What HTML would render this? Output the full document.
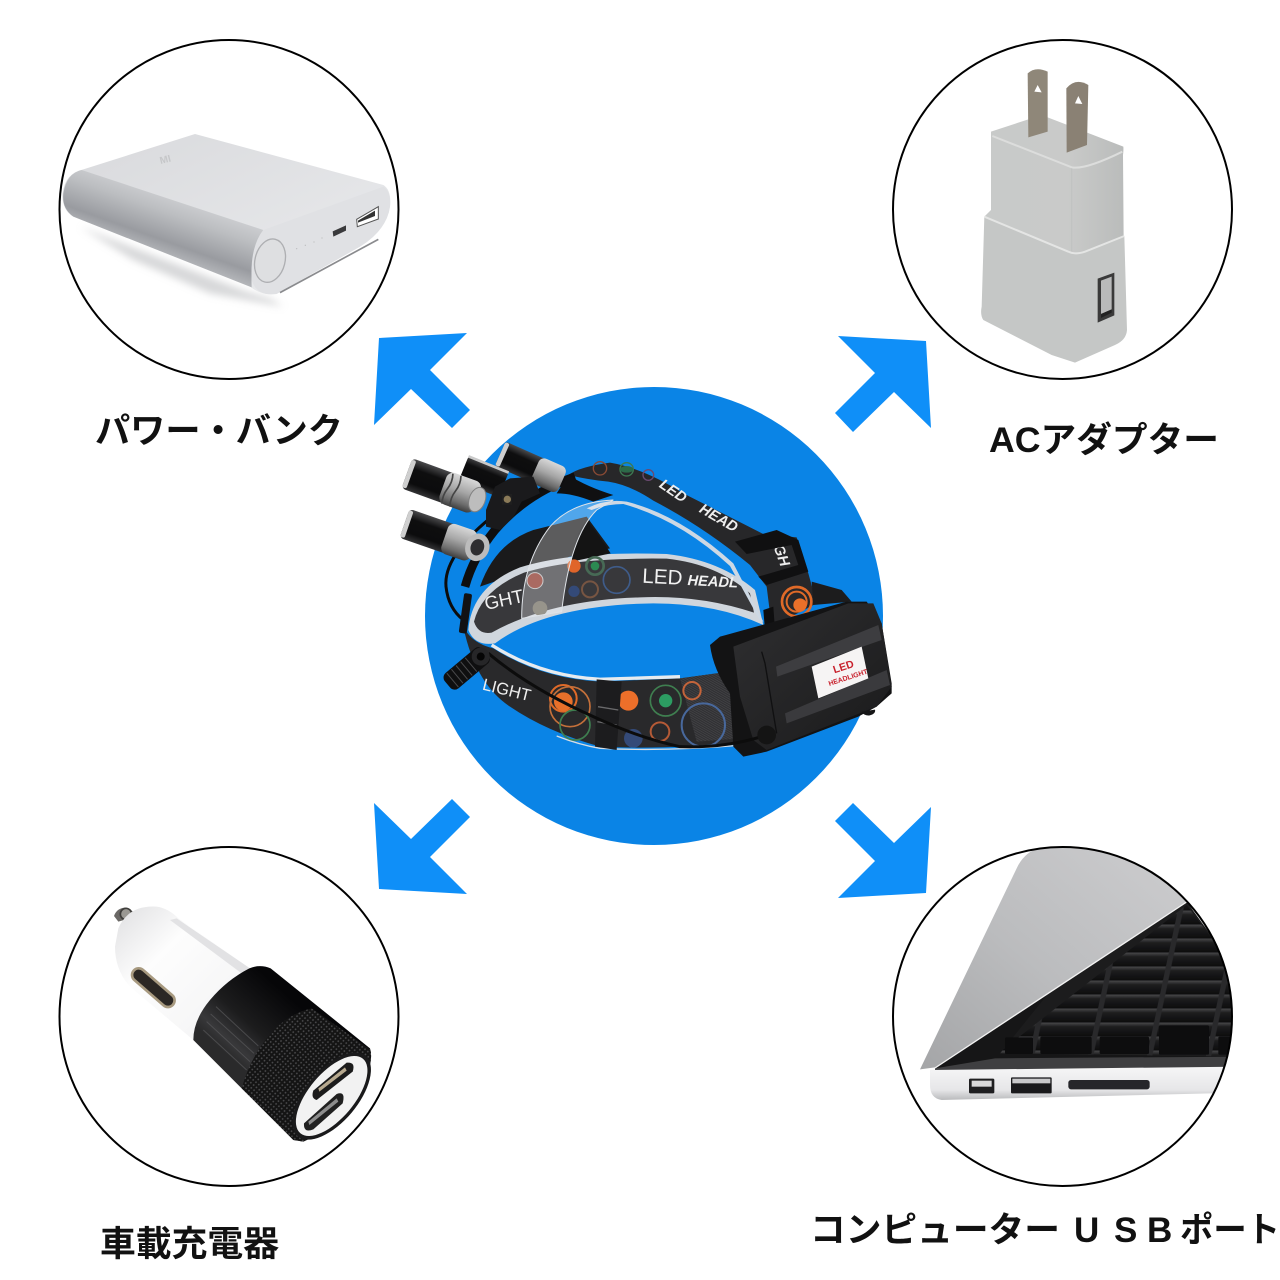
<!DOCTYPE html>
<html lang="ja"><head><meta charset="utf-8"><title>Headlamp charging</title>
<style>html,body{margin:0;padding:0;background:#fff}svg{display:block}
.l{font-family:"Liberation Sans","Noto Sans CJK JP",sans-serif;font-weight:700;font-size:35px;fill:#111}</style></head>
<body>
<svg width="1280" height="1280" viewBox="0 0 1280 1280" xmlns="http://www.w3.org/2000/svg">
<defs>
<linearGradient id="pbSide" gradientUnits="userSpaceOnUse" x1="395" y1="480" x2="320" y2="690"><stop offset="0" stop-color="#d5d6d9"/><stop offset=".35" stop-color="#bcbec1"/><stop offset=".72" stop-color="#999ba0"/><stop offset="1" stop-color="#c0c2c5"/></linearGradient>
<linearGradient id="pbTop" x1="0" y1="0" x2="1" y2="1"><stop offset="0" stop-color="#d8d9dc"/><stop offset="1" stop-color="#ebecee"/></linearGradient>
<linearGradient id="chg" x1="0" y1="0" x2="1" y2="0"><stop offset="0" stop-color="#c8cac9"/><stop offset=".6" stop-color="#c9cac9"/><stop offset="1" stop-color="#babcbb"/></linearGradient>
<linearGradient id="lid" x1="0" y1="1" x2="1" y2="0"><stop offset="0" stop-color="#a4a5a7"/><stop offset=".45" stop-color="#bbbcbe"/><stop offset="1" stop-color="#cdcdcf"/></linearGradient>
<linearGradient id="base" x1="0" y1="0" x2="0" y2="1"><stop offset="0" stop-color="#f6f6f7"/><stop offset=".7" stop-color="#e6e6e8"/><stop offset="1" stop-color="#b9babc"/></linearGradient>
<linearGradient id="keyg" x1="0" y1="0" x2="0" y2="1"><stop offset="0" stop-color="#48484a"/><stop offset=".3" stop-color="#1d1d1e"/><stop offset="1" stop-color="#0c0c0d"/></linearGradient>
<linearGradient id="tor" x1="0" y1="0" x2="0" y2="1"><stop offset="0" stop-color="#4a4a4c"/><stop offset=".3" stop-color="#0e0e0f"/><stop offset=".75" stop-color="#0c0c0d"/><stop offset="1" stop-color="#333335"/></linearGradient>
<linearGradient id="sil" x1="0" y1="0" x2="0" y2="1"><stop offset="0" stop-color="#d8d8d8"/><stop offset=".45" stop-color="#a6a6a6"/><stop offset=".8" stop-color="#6c6c6c"/><stop offset="1" stop-color="#3e3e3e"/></linearGradient>
<linearGradient id="box" x1="0" y1="0" x2="1" y2="1"><stop offset="0" stop-color="#2f2f31"/><stop offset="1" stop-color="#1a1a1b"/></linearGradient>
<linearGradient id="cw" x1="0" y1="0" x2="1" y2="1"><stop offset="0" stop-color="#dfdfe1"/><stop offset=".35" stop-color="#fdfdfd"/><stop offset="1" stop-color="#f2f2f3"/></linearGradient>
<linearGradient id="barrel" gradientUnits="userSpaceOnUse" x1="640" y1="400" x2="470" y2="590"><stop offset="0" stop-color="#060608"/><stop offset=".55" stop-color="#1c1c1d"/><stop offset=".85" stop-color="#38383a"/><stop offset="1" stop-color="#2a2a2b"/></linearGradient>
<pattern id="keys" width="177" height="42" patternUnits="userSpaceOnUse" patternTransform="translate(38,2) skewX(-12)"><rect width="177" height="42" fill="#29292b"/><rect x="16" y="0" width="161" height="41" rx="3" fill="url(#keyg)"/></pattern>
<pattern id="knurl" width="11" height="11" patternUnits="userSpaceOnUse" patternTransform="rotate(40)"><rect width="11" height="11" fill="#141414"/><circle cx="5.5" cy="5.5" r="2.6" fill="#4b4b4d"/></pattern>
<pattern id="hatch" width="6" height="6" patternUnits="userSpaceOnUse" patternTransform="rotate(30)"><rect width="6" height="6" fill="#303033"/><rect width="6" height="2" fill="#47474a"/></pattern>
<clipPath id="cBR"><circle cx="532" cy="529" r="507"/></clipPath>
<filter id="b6" x="-20%" y="-20%" width="140%" height="140%"><feGaussianBlur stdDeviation="12"/></filter>
</defs>
<rect width="1280" height="1280" fill="#fff"/>

<!-- blue disc -->
<circle cx="654" cy="616" r="229" fill="#0a84e6"/>

<!-- arrows -->
<g fill="#0f8ff8">
<polygon points="379,338 467,333 430,370 470,410 452,428 411,389 374,425"/>
<polygon points="838,336 926,341 931,428 894,392 853,432 835,413 875,373"/>
<polygon points="452,799 411,839 374,803 379,889 467,894 430,857 470,817"/>
<polygon points="853,803 894,843 931,807 926,893 838,898 875,861 835,821"/>
</g>

<!-- power bank -->
<g transform="translate(50,30) scale(.33333)">
<path d="M90,590 L590,785 L660,805 L700,830 L480,790 L250,690 Z" fill="#bcbdc0" opacity=".6" filter="url(#b6)"/>
<path d="M435,312 L1000,465 Q1025,480 1020,530 Q1010,600 930,650 L680,790 Q640,800 600,770 L70,560 Q35,540 38,490 Q45,430 100,418 Z" fill="url(#pbTop)"/>
<path d="M95,420 L640,600 Q600,650 605,772 L70,560 Q35,535 40,490 Q50,430 95,420 Z" fill="url(#pbSide)"/>
<path d="M640,600 L1000,470 Q1024,485 1020,530 Q1010,600 930,650 L680,792 Q620,800 605,750 Q600,650 640,600 Z" fill="#e0e1e4"/>
<path d="M690,788 L985,628" stroke="#8a8b8e" stroke-width="5" fill="none"/>
<ellipse cx="660" cy="692" rx="45" ry="66" transform="rotate(14 660 692)" fill="#dedfe1" stroke="#aeafb2" stroke-width="4"/>
<polygon points="920,568 985,530 985,567 922,590" fill="#fff" stroke="#555" stroke-width="3"/>
<polygon points="924,572 975,542 975,558 924,578" fill="#333"/>
<polygon points="848,604 888,586 888,602 850,620" fill="#3a3a3c"/>
<g fill="#bebfc1"><circle cx="740" cy="656" r="2"/><circle cx="766" cy="646" r="2"/><circle cx="792" cy="636" r="2"/><circle cx="816" cy="624" r="2"/></g>
<text x="332" y="402" font-family="Liberation Sans,sans-serif" font-size="30" font-weight="700" fill="#c6c7c9" transform="rotate(-14 332 402)">MI</text>
</g>

<!-- wall charger -->
<g transform="translate(885,30) scale(.33333)">
<path d="M318,305 L430,268 L488,262 L715,350 Q716,360 714,375 L716,630 L560,680 L298,560 L318,540 Z" fill="url(#chg)"/>
<path d="M322,318 L560,412 Q600,420 712,365" fill="none" stroke="#dcdddc" stroke-width="6"/>
<path d="M560,415 L560,670" stroke="#c1c3c2" stroke-width="4"/>
<path d="M428,130 Q452,108 488,125 L488,305 L430,322 Z" fill="#8f8779"/>
<path d="M544,175 Q572,142 610,165 L606,345 L545,368 Z" fill="#8a8174"/>
<path d="M448,185 L458,165 L470,187 Z M570,220 L580,198 L592,222 Z" fill="#fff"/>
<path d="M298,560 L550,665 Q570,675 600,665 L718,618 L726,900 Q724,930 690,945 L570,998 L500,975 L295,870 Q285,855 290,830 Z" fill="#c5c7c6"/>
<path d="M298,560 L550,665 Q570,675 600,665 L718,618" fill="none" stroke="#e4e5e4" stroke-width="6"/>
<polygon points="638,746 688,728 688,856 638,878" fill="#3a3a3a"/>
<polygon points="648,752 680,740 680,838 648,852" fill="#b9baba"/>
<polygon points="648,852 680,838 680,848 648,864" fill="#222"/>
</g>

<!-- car charger -->
<g transform="translate(50,840) scale(.33333)">
<path d="M205,245 L192,228 Q200,205 225,203 L250,215 L240,235 Z" fill="#6a6865"/>
<circle cx="228" cy="222" r="17" fill="#9a9893" stroke="#3e3d3b" stroke-width="5"/>
<path d="M205,265 Q235,195 320,200 Q355,205 385,235 L600,385 L430,600 L240,440 Q195,390 195,320 Z" fill="url(#cw)"/>
<path d="M380,235 L600,385 L575,400 L360,240 Z" fill="#e2e2e4"/>
<rect x="232" y="423" width="156" height="40" rx="20" transform="rotate(41 310 443)" fill="#2b2724" stroke="#a89a80" stroke-width="8"/>
<path d="M598,385 Q630,372 662,385 L960,625 Q972,660 940,730 Q900,840 760,905 L730,900 L590,760 L430,600 Q430,540 480,480 Q530,420 598,385 Z" fill="url(#barrel)"/>
<g stroke="#58585a" stroke-width="3" opacity=".7"><path d="M460,570 L590,690M470,545 L600,665M482,522 L612,640M498,500 L625,618"/></g>
<path d="M785,505 L960,628 Q972,660 940,730 Q900,840 760,905 L730,900 L575,745 Q610,620 700,545 Q740,515 785,505 Z" fill="url(#knurl)"/>
<ellipse cx="845" cy="768" rx="158" ry="78" transform="rotate(-50 845 768)" fill="#1a1a1b"/>
<ellipse cx="845" cy="768" rx="146" ry="68" transform="rotate(-50 845 768)" fill="#f2f2f2"/>
<path d="M790,752 L890,668 Q918,665 908,695 L800,780 Q782,775 790,752 Z" fill="#1c1c1c"/>
<path d="M762,850 L860,762 Q888,752 878,790 L790,868 Q760,880 762,850 Z" fill="#202020"/>
<path d="M805,745 L885,682 L890,692 L808,755 Z" fill="#b7a98f"/>
<path d="M775,845 L860,775 L865,785 L778,855 Z" fill="#8c8c8c"/>
</g>

<!-- laptop -->
<g transform="translate(885,840) scale(.33333)">
<g clip-path="url(#cBR)">
<path d="M150,685 L905,185 L1060,400 L1060,690 Z" fill="#1c1c1d"/>
<path d="M340,640 L905,195 L1060,400 L1060,650 Z" fill="url(#keys)"/>
<path d="M150,685 L490,460 L345,640 L1060,650 L1060,690 Z" fill="#161617"/>
<g fill="#0d0d0e"><rect x="360" y="592" width="84" height="50" rx="4"/><rect x="466" y="590" width="154" height="52" rx="4"/><rect x="644" y="590" width="148" height="52" rx="4"/><rect x="822" y="556" width="150" height="88" rx="4"/><rect x="1000" y="590" width="60" height="54" rx="4"/></g>
<path d="M150,685 L330,655 L1060,650 L1060,690 L150,690 Z" fill="#3f3f41"/>
<path d="M105,688 L395,85 Q415,42 455,26 L600,15 L800,60 L905,185 L150,682 Z" fill="url(#lid)"/>
<path d="M150,684 L905,186" stroke="#f2f2f2" stroke-width="4"/>
<path d="M135,690 L1060,680 L1060,758 L170,780 Q135,775 135,735 Z" fill="url(#base)"/>
<rect x="252" y="716" width="76" height="44" rx="4" fill="#1f1f21"/><rect x="260" y="722" width="60" height="18" fill="#d9d9da"/>
<rect x="378" y="712" width="122" height="48" rx="3" fill="#1a1a1c"/><rect x="382" y="716" width="114" height="14" fill="#c9c9cb"/>
<rect x="550" y="720" width="244" height="28" rx="8" fill="#26262a"/>
</g>
</g>

<!-- circles -->
<g fill="none" stroke="#000" stroke-width="2">
<circle cx="229" cy="209.5" r="169.5"/><circle cx="1062.5" cy="209.5" r="169.5"/>
<circle cx="229" cy="1016.5" r="169.5"/><circle cx="1062.5" cy="1016.5" r="169.5"/>
</g>

<!-- headlamp -->
<g transform="translate(400,430) scale(.33333)">
<!-- dark mount area -->
<path d="M240,470 Q285,340 400,300 L560,260 L630,355 L510,380 L370,425 Z" fill="#1a1a1b"/>
<!-- back strap with clear rim -->
<path d="M205,600 Q215,470 360,412 Q520,362 800,372 Q960,390 1065,480 L1090,585 Q950,520 760,520 Q440,525 285,640 Q225,650 205,600 Z" fill="#d0d6dd"/>
<path d="M222,575 Q245,480 372,428 Q520,382 800,386 Q950,402 1050,490 L1062,548 Q900,494 720,502 Q450,510 275,608 Q235,615 222,575 Z" fill="#38383b"/>
<!-- clear upper loop -->
<path d="M560,235 Q620,205 680,215 Q840,255 1000,400 L1090,575 L1080,572 L990,408 Q840,270 670,222 Q620,222 575,240 Z" fill="#cdd8e4"/>
<!-- upper strap -->
<path d="M505,135 Q540,110 630,98 Q730,115 850,190 L1090,312 L1190,322 L1225,430 L1250,520 L1115,590 L1100,470 L1050,405 Q910,290 760,212 Q690,165 625,155 Q570,150 505,135 Z" fill="#272729"/>
<circle cx="600" cy="115" r="20" fill="none" stroke="#8a4a34" stroke-width="4"/>
<circle cx="680" cy="118" r="20" fill="none" stroke="#3d7a52" stroke-width="4"/>
<path d="M660,118 a20,10 0 1,0 40,0 a20,10 0 1,0 -40,0" fill="#2c6a48"/>
<circle cx="745" cy="135" r="16" fill="none" stroke="#6a4a70" stroke-width="4"/>
<circle cx="1190" cy="515" r="44" fill="none" stroke="#e06a28" stroke-width="8"/>
<circle cx="1190" cy="515" r="30" fill="none" stroke="#e06a28" stroke-width="6"/>
<circle cx="1200" cy="525" r="20" fill="#e9702a"/>
<g fill="#eee" font-family="Liberation Sans,sans-serif" font-style="italic" font-weight="700" font-size="44">
<text x="775" y="170" transform="rotate(34 775 170)">LED</text>
<text x="895" y="245" transform="rotate(30 895 245)">HEAD</text>
<text x="1120" y="350" transform="rotate(70 1120 350)">GH</text>
</g>
<!-- black arcs -->
<path d="M525,140 Q380,190 285,300 Q220,380 195,470" fill="none" stroke="#0e0e0f" stroke-width="26"/>
<path d="M505,135 Q560,170 640,195 L580,215 Q520,190 470,190 Z" fill="#101011"/>
<!-- buckle on strap -->
<path d="M1005,335 L1130,300 L1195,330 L1225,425 L1100,465 L1075,440 L1195,405 L1175,345 L1040,372 Z" fill="#101011"/>
<path d="M1090,540 L1120,530 L1125,600 L1095,600 Z" fill="#0e0e0f"/>
<!-- visor -->
<path d="M560,270 Q600,320 632,370 L515,395 Q520,320 560,270 Z" fill="#141414"/>
<circle cx="522" cy="408" r="20" fill="#e0652a"/><circle cx="585" cy="408" r="26" fill="none" stroke="#476a55" stroke-width="8"/><circle cx="585" cy="408" r="13" fill="#2c8a52"/>
<circle cx="570" cy="478" r="24" fill="none" stroke="#775542" stroke-width="6"/><circle cx="522" cy="484" r="17" fill="#344a78"/>
<circle cx="650" cy="450" r="40" fill="none" stroke="#3f5c8a" stroke-width="5"/>
<circle cx="405" cy="452" r="24" fill="#8a2f22" stroke="#bbb" stroke-width="3"/>
<circle cx="420" cy="535" r="22" fill="#6f6a5c"/>
<path d="M365,565 Q365,400 450,290 Q515,215 640,210 L590,240 Q510,320 485,545 Z" fill="#f4f5f7" fill-opacity=".3" stroke="#dfe3e8" stroke-width="3"/>
<g fill="#f2f2f2" font-family="Liberation Sans,sans-serif">
<text x="726" y="458" font-size="62" font-weight="400" transform="rotate(3 726 458)">LED</text>
<text x="862" y="465" font-size="44" font-weight="700" font-style="italic" transform="rotate(3 862 465)">HEADL</text>
<text x="258" y="540" font-size="56" transform="rotate(-12 258 540)">GHT</text>
</g>
<!-- front strap -->
<path d="M190,590 Q215,640 280,655 Q420,745 600,755 L840,745 L990,725 L1030,935 Q800,960 600,950 Q440,905 330,830 Q225,760 190,590 Z" fill="#29292b"/>
<path d="M275,645 Q420,738 600,748 L840,740" fill="none" stroke="#e7ebef" stroke-width="10"/>
<path d="M470,918 Q540,945 600,955 Q800,965 1030,945" fill="none" stroke="#d8dde2" stroke-width="4"/>
<path d="M840,745 L985,725 L1025,925 L890,935 Z" fill="url(#hatch)"/>
<circle cx="490" cy="805" r="40" fill="none" stroke="#e06a28" stroke-width="6"/><circle cx="490" cy="815" r="28" fill="#e9702a"/>
<circle cx="510" cy="830" r="60" fill="none" stroke="#c4703a" stroke-width="5"/>
<circle cx="525" cy="885" r="45" fill="none" stroke="#3f7f50" stroke-width="5"/>
<circle cx="685" cy="812" r="30" fill="#ec6f2a"/>
<circle cx="797" cy="812" r="46" fill="none" stroke="#3f7f50" stroke-width="5"/><circle cx="797" cy="812" r="20" fill="#2c9c62"/>
<circle cx="876" cy="782" r="26" fill="none" stroke="#c4643a" stroke-width="6"/>
<circle cx="910" cy="885" r="65" fill="none" stroke="#48689c" stroke-width="6"/>
<circle cx="780" cy="905" r="28" fill="none" stroke="#b55a36" stroke-width="6"/>
<circle cx="700" cy="925" r="28" fill="#344a78"/>
<text x="245" y="778" font-family="Liberation Sans,sans-serif" font-size="50" fill="#eee" transform="rotate(14 245 778)">LIGHT</text>
<!-- box -->
<path d="M1235,455 L1325,480 L1355,515 L1240,525 Z" fill="#1c1c1d"/>
<path d="M930,645 L960,620 L1340,515 L1400,515 L1445,580 L1475,760 L1475,790 L1430,830 L1375,860 L1100,965 L1030,980 L1000,950 L990,790 Q940,720 930,645 Z" fill="#131314"/>
<path d="M1000,650 L1345,520 L1420,520 L1445,580 L1475,770 L1430,830 L1100,960 L1060,930 L1020,800 Z" fill="url(#box)"/>
<polygon points="1128,710 1435,585 1445,630 1132,740" fill="#3d3d40"/>
<polygon points="1155,850 1460,720 1470,765 1160,880" fill="#3a3a3d"/>
<path d="M1085,665 L1095,700 L1130,910" fill="none" stroke="#101011" stroke-width="4"/>
<path d="M1385,845 a20,14 0 0,0 40,-6 Z" fill="#161617"/>
<polygon points="1235,710 1385,650 1405,745 1255,805" fill="#f6f4f4"/>
<g fill="#c8202c" font-family="Liberation Sans,sans-serif" font-weight="700">
<text x="1303" y="730" font-size="32" transform="rotate(-18 1303 730)">LED</text>
<text x="1288" y="768" font-size="21" transform="rotate(-18 1288 768)">HEADLIGHT</text>
</g>
<!-- buckle front -->
<path d="M590,748 L665,755 L650,960 L585,950 Z" fill="#1c1c1e"/>
<path d="M594,830 L655,840" stroke="#6a6a6c" stroke-width="4"/>
<path d="M592,875 L650,885" stroke="#6a6a6c" stroke-width="4"/>
<!-- cables -->
<path d="M270,265 Q130,380 138,470 Q145,535 190,570" fill="none" stroke="#0c0c0c" stroke-width="9"/>
<path d="M265,670 Q390,775 580,860 Q720,925 840,950 Q980,955 1100,915" fill="none" stroke="#0c0c0c" stroke-width="9"/>
<circle cx="1100" cy="915" r="28" fill="#141414"/>
<rect x="185" y="490" width="24" height="120" rx="6" fill="#121214" transform="rotate(8 196 545)"/>
<!-- coil -->
<g transform="rotate(-40 200 715)"><rect x="125" y="685" width="150" height="60" rx="18" fill="#0f0f10"/><g stroke="#4a4a4c" stroke-width="3"><path d="M145,688v54M163,688v54M181,688v54M199,688v54M217,688v54"/></g><circle cx="255" cy="715" r="27" fill="#262628"/><circle cx="255" cy="715" r="12" fill="#050505"/></g>
<!-- torches -->
<g transform="translate(310,75) rotate(24)"><rect x="-10" y="-40" width="145" height="80" rx="10" fill="url(#tor)"/><rect x="-10" y="-38" width="14" height="76" rx="6" fill="#cfcfcf"/><rect x="105" y="-42" width="88" height="84" rx="18" fill="url(#sil)"/></g>
<g transform="translate(195,105) rotate(22)"><rect x="0" y="-30" width="130" height="82" rx="10" fill="url(#tor)"/><rect x="0" y="-32" width="130" height="8" fill="#c9c9c9"/></g>
<path d="M258,240 L285,170 L330,145 L400,140 L420,190 L365,215 L340,262 L300,300 L258,290 Z" fill="#1a1a1c"/>
<rect x="306" y="192" width="30" height="32" fill="#1f1f1f"/><circle cx="322" cy="208" r="11" fill="#8a7a58"/>
<g transform="translate(28,285) rotate(19)"><rect x="-15" y="-46" width="150" height="92" rx="12" fill="url(#tor)"/><rect x="-15" y="-42" width="14" height="84" rx="6" fill="#cfcfcf"/><rect x="112" y="-48" width="92" height="96" rx="20" fill="url(#sil)"/></g>
<ellipse cx="232" cy="352" rx="36" ry="42" fill="#bcbcbc" transform="rotate(20 232 352)"/><ellipse cx="232" cy="352" rx="20" ry="25" fill="#2e2e30" transform="rotate(20 232 352)"/>
<g transform="translate(35,135) rotate(20)"><rect x="-15" y="-48" width="150" height="96" rx="12" fill="url(#tor)"/><rect x="-15" y="-44" width="14" height="88" rx="6" fill="#cfcfcf"/><rect x="100" y="-50" width="110" height="100" rx="22" fill="url(#sil)"/><ellipse cx="210" cy="2" rx="24" ry="38" fill="#bdbdbd" stroke="#808080" stroke-width="3"/><path d="M115,-46 q8,24 0,48 q-8,24 0,48 M140,-48 q8,24 0,48 q-8,24 0,50" fill="none" stroke="#444" stroke-width="5"/></g>
</g>

<!-- labels -->
<text class="l" x="95" y="443" textLength="248" lengthAdjust="spacingAndGlyphs">パワー・バンク</text>
<text class="l" x="989" y="452" textLength="230" lengthAdjust="spacingAndGlyphs">ACアダプター</text>
<text class="l" x="100" y="1256" textLength="179" lengthAdjust="spacingAndGlyphs">車載充電器</text>
<text class="l" x="810" y="1242" textLength="250" lengthAdjust="spacingAndGlyphs">コンピューター</text>
<text class="l" x="1074" y="1242">U</text>
<text class="l" x="1114" y="1242">S</text>
<text class="l" x="1147" y="1242">B</text>
<text class="l" x="1180" y="1242" textLength="100" lengthAdjust="spacingAndGlyphs">ポート</text>
</svg>
</body></html>
